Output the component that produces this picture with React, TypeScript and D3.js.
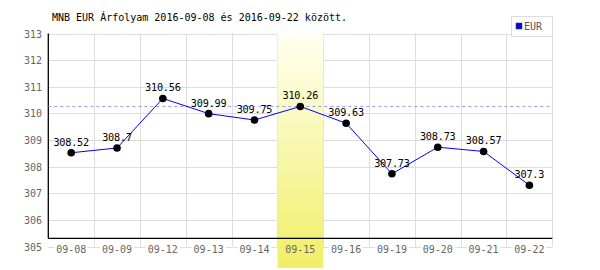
import React from "react";
import * as d3 from "d3";

const categories = ["09-08", "09-09", "09-12", "09-13", "09-14", "09-15", "09-16", "09-19", "09-20", "09-21", "09-22"];
const values = [308.52, 308.7, 310.56, 309.99, 309.75, 310.26, 309.63, 307.73, 308.73, 308.57, 307.3];
const yTicks = [305, 306, 307, 308, 309, 310, 311, 312, 313];
const highlightCategory = "09-15";
const referenceValue = 310.26;
const title = "MNB EUR Árfolyam 2016-09-08 és 2016-09-22 között.";
const seriesName = "EUR";

const W = 600, H = 270;
const left = 48.3, right = 552.3, top = 33.5, bottom = 246.5;
const axisY = 238.3;
const FONT = "'DejaVu Sans Mono', monospace";

export default function App() {
  const x = d3.scaleBand<string>().domain(categories).range([left, right]);
  const y = d3.scaleLinear().domain([305, 313]).range([bottom, top]);
  const cx = (c: string) => (x(c) as number) + x.bandwidth() / 2;
  const line = d3.line<number>().x((_, i) => cx(categories[i])).y((v) => y(v));
  const hx = x(highlightCategory) as number;

  return (
    <svg width={W} height={H} style={{ position: "absolute", left: 0, top: 0, background: "#fff" }}>
      <defs>
        <linearGradient id="hl" x1="0" y1="0" x2="0" y2="1">
          <stop offset="0" stopColor="#fffff2" />
          <stop offset="1" stopColor="#f1ef66" />
        </linearGradient>
      </defs>
      <rect width={W} height={H} fill="#fff" />
      {yTicks.map((t) => (
        <line key={"h" + t} x1={left} x2={right} y1={Math.round(y(t)) + 0.5} y2={Math.round(y(t)) + 0.5} stroke="#dddddd" />
      ))}
      {categories.map((c) => (
        <line key={"v" + c} x1={Math.round((x(c) as number) + x.bandwidth()) + 0.5} x2={Math.round((x(c) as number) + x.bandwidth()) + 0.5} y1={top} y2={bottom} stroke="#dddddd" />
      ))}
      {categories.map((c) => (
        <rect key={"b" + c} x={cx(c) - 17} y={bottom - 5} width={34} height={11} fill="#fff" />
      ))}
      <rect x={Math.round(hx) + 0.5} y={top} width={x.bandwidth()} height={H - top - 2} fill="url(#hl)" />
      <line x1={left} x2={left} y1={top} y2={axisY} stroke="#000" strokeWidth={1.3} />
      <line x1={left} x2={right} y1={axisY} y2={axisY} stroke="#000" strokeWidth={1.3} />
      {yTicks.map((t) => (
        <text key={"yl" + t} x={42} y={y(t) + 4} textAnchor="end" fontFamily={FONT} fontSize={10} fill="#666">{t}</text>
      ))}
      {categories.map((c) => (
        <text key={"xl" + c} x={cx(c)} y={bottom + 6} textAnchor="middle" fontFamily={FONT} fontSize={10} fill="#666">{c}</text>
      ))}
      <line x1={left} x2={right} y1={y(referenceValue)} y2={y(referenceValue)} stroke="#9999ff" strokeDasharray="3,3" />
      <path d={line(values) as string} fill="none" stroke="#0000ff" strokeWidth={1} />
      {values.map((v, i) => (
        <circle key={"p" + i} cx={cx(categories[i])} cy={y(v)} r={3.8} fill="#000" />
      ))}
      {values.map((v, i) => (
        <text key={"vl" + i} x={cx(categories[i])} y={y(v) - 7} textAnchor="middle" fontFamily={FONT} fontSize={10.2} letterSpacing={-0.2} fill="#000">{String(v)}</text>
      ))}
      <text x={52} y={21} fontFamily={FONT} fontSize={10} fill="#000">{title}</text>
      <rect x={511.5} y={16.5} width={41} height={20} fill="#fff" stroke="#dddddd" />
      <rect x={516} y={23} width={6} height={6} fill="#0000ff" stroke="#444" strokeWidth={0.6} />
      <text x={524} y={30} fontFamily={FONT} fontSize={10} fill="#555">{seriesName}</text>
    </svg>
  );
}
